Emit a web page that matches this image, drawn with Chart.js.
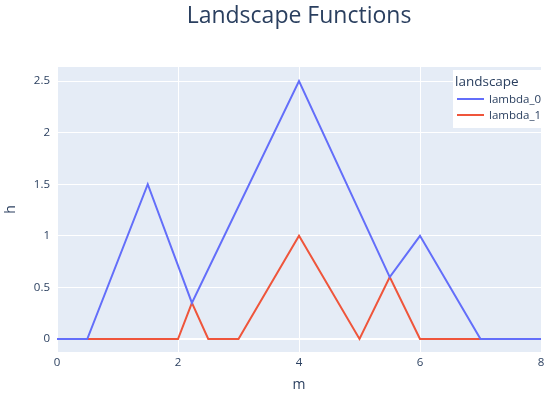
<!DOCTYPE html>
<html>
<head>
<meta charset="utf-8">
<script src="https://cdn.jsdelivr.net/npm/chart.js@4"></script>
<style>
  html, body { margin: 0; padding: 0; background: #fff; }
  #wrap { width: 550px; height: 396px; }
</style>
</head>
<body>
<div id="wrap"><canvas id="landscapeChart"></canvas></div>
<script>
// Landscape functions
const lambda0X = [0, 0.5, 1.5, 2.23, 4, 5.5, 6, 7, 8];
const lambda0Y = [0, 0, 1.5, 0.35, 2.5, 0.6, 1, 0, 0];
const lambda1X = [0, 2, 2.23, 2.5, 3, 4, 5, 5.5, 6, 8];
const lambda1Y = [0, 0, 0.35, 0, 0, 1, 0, 0.6, 0, 0];
const seriesNames = ['lambda_0', 'lambda_1'];
const xTicks = [0, 2, 4, 6, 8];
const yTicks = [0, 0.5, 1, 1.5, 2, 2.5];

const TEXT = '#2a3f5f';
const FONT = "'Open Sans', 'DejaVu Sans', sans-serif";

function toPoints(xs, ys) {
    return xs.map((x, i) => ({ x: x, y: ys[i] }));
}

// Plot background + title
const backdrop = {
    id: 'backdrop',
    beforeDraw(chart) {
        const { ctx, chartArea: a } = chart;
        ctx.save();
        ctx.fillStyle = '#e5ecf6';
        ctx.fillRect(a.left, a.top, a.right - a.left, a.bottom - a.top);
        ctx.restore();
    },
    afterDraw(chart) {
        const { ctx, chartArea: a } = chart;
        ctx.save();
        ctx.fillStyle = TEXT;
        ctx.font = '23px ' + FONT;
        ctx.textAlign = 'center';
        ctx.textBaseline = 'alphabetic';
        ctx.fillText('Landscape Functions', (a.left + a.right) / 2, 23);
        ctx.restore();
    }
};

// Plotly-like legend box in the top right corner
const boxLegend = {
    id: 'boxLegend',
    afterDraw(chart) {
        const { ctx } = chart;
        const left = 453, top = 70;
        ctx.save();
        ctx.fillStyle = '#ffffff';
        ctx.fillRect(left, top, 550 - left, 58);
        ctx.fillStyle = TEXT;
        ctx.font = '13.5px ' + FONT;
        ctx.textBaseline = 'alphabetic';
        ctx.fillText('landscape', left + 2, 86);
        ctx.font = '11.5px ' + FONT;
        ctx.textBaseline = 'middle';
        chart.data.datasets.forEach((ds, i) => {
            const y = 99 + i * 16;
            ctx.strokeStyle = ds.borderColor;
            ctx.lineWidth = 2;
            ctx.beginPath();
            ctx.moveTo(left + 4, y);
            ctx.lineTo(left + 31, y);
            ctx.stroke();
            ctx.fillStyle = TEXT;
            ctx.fillText(ds.label, left + 36, y + 1);
        });
        ctx.restore();
    }
};

const ctx = document.getElementById('landscapeChart').getContext('2d');
const chart = new Chart(ctx, {
    type: 'line',
    data: {
        datasets: [{
            label: seriesNames[0],
            data: toPoints(lambda0X, lambda0Y),
            borderColor: '#636efa',
            borderWidth: 2,
            pointRadius: 0,
            tension: 0
        }, {
            label: seriesNames[1],
            data: toPoints(lambda1X, lambda1Y),
            borderColor: '#ef553b',
            borderWidth: 2,
            pointRadius: 0,
            tension: 0
        }]
    },
    options: {
        responsive: true,
        maintainAspectRatio: false,
        animation: false,
        layout: { padding: { top: 67, right: 9, left: 0, bottom: 0 } },
        plugins: {
            legend: { display: false },
            title: { display: false },
            tooltip: { enabled: false }
        },
        scales: {
            x: {
                type: 'linear',
                min: 0,
                max: 8,
                afterBuildTicks: axis => { axis.ticks = xTicks.map(v => ({ value: v })); },
                afterFit: axis => { axis.height = 44; },
                border: { display: false },
                grid: {
                    color: '#ffffff',
                    lineWidth: c => (c.tick && c.tick.value === 0 ? 2 : 1),
                    drawTicks: false
                },
                ticks: {
                    color: TEXT,
                    font: { family: FONT, size: 11.5 },
                    padding: 4,
                    maxRotation: 0,
                    callback: v => String(v)
                },
                title: {
                    display: true,
                    text: 'm',
                    color: TEXT,
                    font: { family: FONT, size: 14 },
                    padding: { top: 0, bottom: 3 }
                }
            },
            y: {
                min: -0.126,
                max: 2.636,
                afterBuildTicks: axis => { axis.ticks = yTicks.map(v => ({ value: v })); },
                afterFit: axis => { axis.width = 57; },
                border: { display: false },
                grid: {
                    color: '#ffffff',
                    lineWidth: c => (c.tick && c.tick.value === 0 ? 2 : 1),
                    drawTicks: false
                },
                ticks: {
                    color: TEXT,
                    font: { family: FONT, size: 11.5 },
                    padding: 7,
                    callback: v => String(v)
                },
                title: {
                    display: true,
                    text: 'h',
                    color: TEXT,
                    font: { family: FONT, size: 14 },
                    padding: { top: 3, bottom: 0 }
                }
            }
        }
    },
    plugins: [backdrop, boxLegend]
});
</script>
</body>
</html>
